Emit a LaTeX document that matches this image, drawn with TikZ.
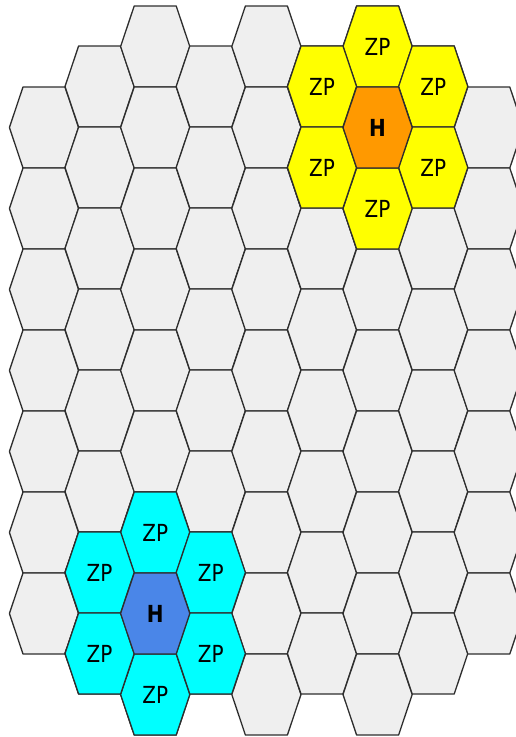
\documentclass[tikz,border=0pt]{standalone}
\usepackage{fontspec}
\setsansfont{DejaVu Sans}[FakeStretch=0.85]
\definecolor{mCellGrey}{HTML}{EFEFEF}
\definecolor{mCellLine}{HTML}{2E2E2E}
\definecolor{mZoneYellow}{HTML}{FFFF00}
\definecolor{mHubOrange}{HTML}{FF9900}
\definecolor{mZoneCyan}{HTML}{00FFFF}
\definecolor{mHubBlue}{HTML}{4A86E8}
\usetikzlibrary{calc}
\tikzset{
  cell/.style={draw=mCellLine, line width=1.3pt, line join=round, fill=mCellGrey},
  celltext/.style={font=\sffamily\fontsize{23.5}{27}\selectfont, inner sep=0pt},
}
\newcommand{\hexcell}[3]{\draw[cell,#3,shift={(#1,#2)}] (-34.6,0) -- (-21,-40.5) -- (21,-40.5) -- (34.6,0) -- (21,40.5) -- (-21,40.5) -- cycle;}

\begin{document}
\begin{tikzpicture}[x=1pt, y=-1pt]
\useasboundingbox (0,0) rectangle (516,737);
\clip (0,0) rectangle (516,737);
\foreach \c/\kfrom/\kto in {1/1/7,2/0/7,3/0/8,4/0/7,5/0/8,6/0/7,7/0/8,8/0/7,9/1/7}{
  \pgfmathsetmacro{\cx}{44+55.6*(\c-1)}
  \pgfmathsetmacro{\cy}{mod(\c,2)==0 ? 86.5 : 46.5}
  \foreach \k in {\kfrom,...,\kto}{\hexcell{\cx}{\cy+81*\k}{}}
}
\hexcell{377.6}{46.5}{fill=mZoneYellow} \hexcell{377.6}{208.5}{fill=mZoneYellow}
\hexcell{322}{86.5}{fill=mZoneYellow} \hexcell{322}{167.5}{fill=mZoneYellow}
\hexcell{433.2}{86.5}{fill=mZoneYellow} \hexcell{433.2}{167.5}{fill=mZoneYellow}
\hexcell{377.6}{127.5}{fill=mHubOrange}
\hexcell{155.2}{532.5}{fill=mZoneCyan} \hexcell{155.2}{694.5}{fill=mZoneCyan}
\hexcell{99.6}{572.5}{fill=mZoneCyan} \hexcell{99.6}{653.5}{fill=mZoneCyan}
\hexcell{210.8}{572.5}{fill=mZoneCyan} \hexcell{210.8}{653.5}{fill=mZoneCyan}
\hexcell{155.2}{613.5}{fill=mHubBlue}
\node[celltext] (yH) at (377.6,127.5) {\bfseries H};
\node[celltext] (yZPn) at (377.6,46.5) {ZP};
\node[celltext] (yZPs) at (377.6,208.5) {ZP};
\node[celltext] (yZPnw) at (322,86.5) {ZP};
\node[celltext] (yZPsw) at (322,167.5) {ZP};
\node[celltext] (yZPne) at (433.2,86.5) {ZP};
\node[celltext] (yZPse) at (433.2,167.5) {ZP};
\node[celltext] (cH) at (155.2,613.5) {\bfseries H};
\node[celltext] (cZPn) at (155.2,532.5) {ZP};
\node[celltext] (cZPs) at (155.2,694.5) {ZP};
\node[celltext] (cZPnw) at (99.6,572.5) {ZP};
\node[celltext] (cZPsw) at (99.6,653.5) {ZP};
\node[celltext] (cZPne) at (210.8,572.5) {ZP};
\node[celltext] (cZPse) at (210.8,653.5) {ZP};
\end{tikzpicture}
\end{document}
